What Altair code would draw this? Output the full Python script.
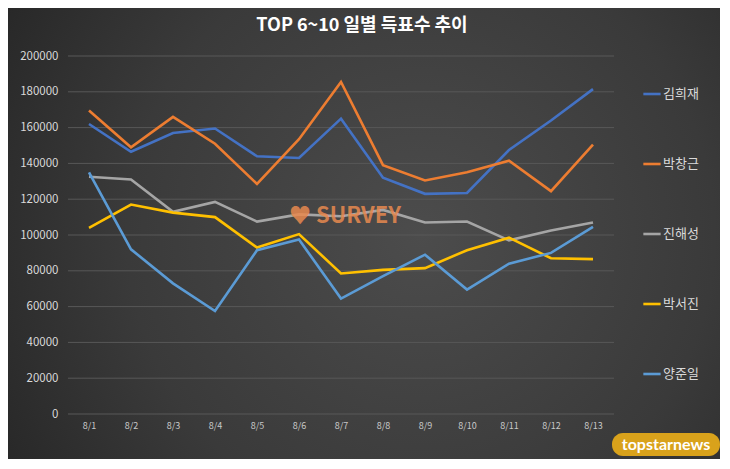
import altair as alt
import pandas as pd

dates = ["8/1", "8/2", "8/3", "8/4", "8/5", "8/6", "8/7", "8/8", "8/9", "8/10", "8/11", "8/12", "8/13"]
names = ["김희재", "박창근", "진해성", "박서진", "양준일"]
colors = ["#4472C4", "#ED7D31", "#A5A5A5", "#FFC000", "#5B9BD5"]
y_ticks = [0, 20000, 40000, 60000, 80000, 100000, 120000, 140000, 160000, 180000, 200000]

kim_hj = [162000, 146500, 157000, 159500, 144000, 143000, 165000, 132000, 123000, 123500, 147500, 164000, 181500]
park_cg = [169500, 149000, 166000, 151000, 128500, 153500, 185500, 139000, 130500, 135000, 141500, 124500, 150500]
jin_hs = [132500, 131000, 113000, 118500, 107500, 111500, 110500, 114000, 107000, 107500, 97000, 102500, 107000]
park_sj = [104000, 117000, 112500, 110000, 93000, 100500, 78500, 80500, 81500, 91500, 98500, 87000, 86500]
yang_ji = [135000, 92000, 73000, 57500, 91500, 97500, 64500, 77000, 89000, 69500, 84000, 90000, 104500]

series = [kim_hj, park_cg, jin_hs, park_sj, yang_ji]
rows = []
for n, vals in zip(names, series):
    for d, v in zip(dates, vals):
        rows.append({"date": d, "name": n, "votes": v})
df = pd.DataFrame(rows)

FONT = "Noto Sans CJK KR"

bg = alt.Chart(pd.DataFrame({"t": ["bg"]})).mark_rect(
    color=alt.Gradient(
        gradient="radial", x1=0.58, y1=0.5, x2=0.58, y2=0.5, r1=0.0, r2=0.75,
        stops=[alt.GradientStop(color="#4c4c4c", offset=0),
               alt.GradientStop(color="#3a3a3a", offset=0.55),
               alt.GradientStop(color="#222222", offset=1)]
    )
).encode(x=alt.value(-60), x2=alt.value(652), y=alt.value(-48), y2=alt.value(405))

y_axis = alt.Axis(values=y_ticks, format="d",
                  labelFontSize=11.5, labelColor="#d9d9d9", labelPadding=10,
                  ticks=False, domain=False, grid=False,
                  labelFont=FONT, zindex=1, labelOverlap=False)

grid = alt.Chart(pd.DataFrame({"votes": y_ticks})).mark_rule(
    color="#585858", strokeWidth=1
).encode(y=alt.Y("votes:Q", title=None, scale=alt.Scale(domain=[0, 200000]), axis=y_axis))

lines = alt.Chart(df).mark_line(strokeWidth=2.6).encode(
    x=alt.X("date:N", sort=dates, title=None,
            axis=alt.Axis(labelAngle=0, labelFontSize=9, labelColor="#c8c8c8",
                          labelPadding=7, ticks=False, domain=False, grid=False,
                          labelFont=FONT, zindex=1, labelOverlap=False)),
    y=alt.Y("votes:Q", title=None, scale=alt.Scale(domain=[0, 200000]), axis=y_axis),
    color=alt.Color("name:N", sort=names,
                    scale=alt.Scale(domain=names, range=colors),
                    legend=alt.Legend(title=None, orient="none", legendX=574, legendY=28,
                                      symbolType="stroke", symbolStrokeWidth=2.6,
                                      symbolSize=300, labelFontSize=13,
                                      labelColor="#d9d9d9", labelFont=FONT,
                                      rowPadding=53, labelOffset=1, zindex=1)),
    order=alt.Order("date_idx:Q"),
).transform_calculate(
    date_idx="indexof(" + str(dates) + ", datum.date)"
)

survey = alt.Chart(pd.DataFrame({"t": ["\u2665 SURVEY"]})).mark_text(
    font=FONT, fontSize=22, fontWeight="bold", color="#E8894F", opacity=0.85
).encode(x=alt.value(277), y=alt.value(160), text="t:N")

badge_bg = alt.Chart(pd.DataFrame({"t": ["topstarnews"]})).mark_rect(
    color="#D9A21B", cornerRadius=11
).encode(x=alt.value(544), x2=alt.value(652), y=alt.value(377), y2=alt.value(400))

badge = alt.Chart(pd.DataFrame({"t": ["topstarnews"]})).mark_text(
    font="Lato", fontSize=16, fontWeight="bold", color="#ffffff"
).encode(x=alt.value(598), y=alt.value(389), text="t:N")

chart = alt.layer(bg, grid, lines, survey, badge_bg, badge).properties(
    width=546, height=358,
    title=alt.TitleParams("TOP 6~10 일별 득표수 추이", font=FONT, fontSize=18,
                          fontWeight="bold", color="#ffffff", anchor="middle",
                          frame="group", dx=21, dy=43, offset=16, zindex=1),
    background="#2e2e2e",
    autosize=alt.AutoSizeParams(type="none"),
    padding={"left": 60, "top": 48, "right": 106, "bottom": 45},
).configure_view(stroke=None)

chart.save("out.html", embed_options={"renderer": "svg", "actions": False})
